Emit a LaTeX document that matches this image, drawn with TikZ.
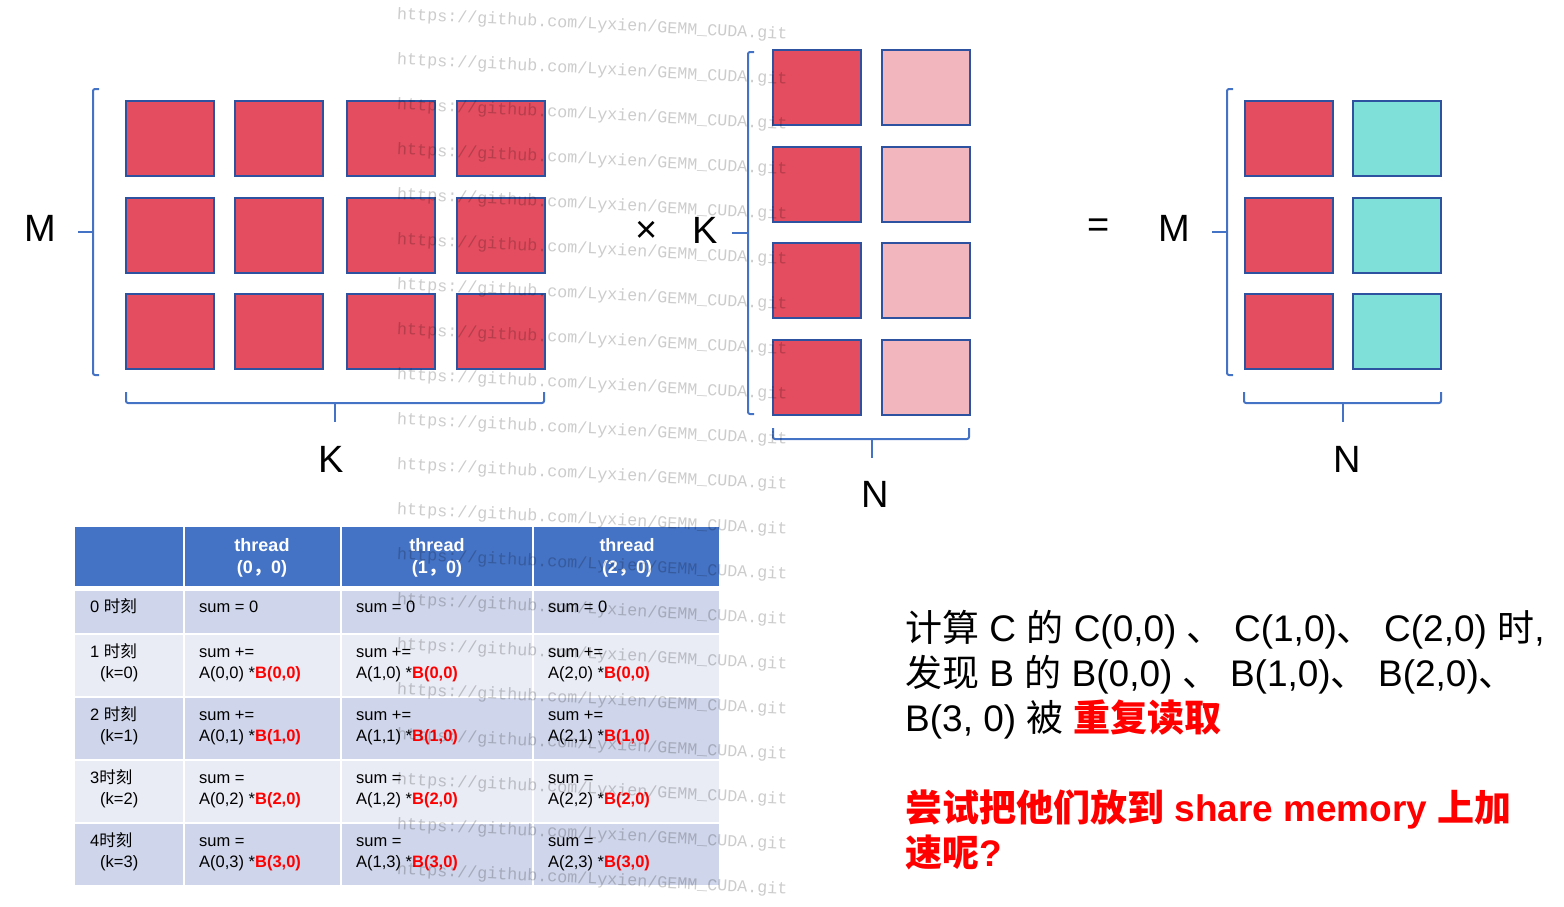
\documentclass[tikz,border=0pt]{standalone}
\usepackage{fontspec}
\setmainfont{Liberation Sans}
\newfontfamily\cjk{Noto Sans CJK SC}
\newfontfamily\wmfont{Liberation Mono}
\definecolor{redA}{HTML}{E34D5F}
\definecolor{pinkB}{HTML}{F2B6BE}
\definecolor{cyanC}{HTML}{7FDFD9}
\definecolor{boxblue}{HTML}{2F52A0}
\definecolor{brk}{HTML}{4472C4}
\definecolor{hdr}{HTML}{4472C4}
\definecolor{rowdark}{HTML}{CFD5EA}
\definecolor{rowlight}{HTML}{E9EBF5}
\newcommand{\rb}[1]{\textcolor{red}{\bfseries #1}}
\begin{document}
\begin{tikzpicture}[x=1pt,y=-1pt,
  mbox/.style={draw=boxblue, line width=2pt, minimum width=88pt, minimum height=75pt, inner sep=0pt, anchor=north west},
  redbox/.style={mbox, fill=redA},
  pinkbox/.style={mbox, fill=pinkB},
  cyanbox/.style={mbox, fill=cyanC},
  brace/.style={draw=brk, line width=2pt, rounded corners=2pt},
  big/.style={font=\fontsize{38}{44}\selectfont, inner sep=0pt},
  tl/.style={font=\fontsize{16.5}{20}\selectfont, inner sep=0pt, anchor=base west},
  hd/.style={font=\fontsize{18}{22}\selectfont\bfseries, text=white, inner sep=0pt, anchor=base},
  rt/.style={font=\fontsize{37}{45}\selectfont, inner sep=0pt, anchor=base west},
  wm/.style={font=\wmfont\fontsize{16.7}{18}\selectfont, text=black, text opacity=0.2, inner sep=0pt, anchor=west, rotate=-2.9}
]
\useasboundingbox (0,0) rectangle (1564,906);

% ---------- matrix A ----------
\foreach \c/\x in {1/125,2/234,3/346,4/456}
  \foreach \r/\y in {1/100,2/197,3/293}
    \node[redbox] (a\r\c) at (\x,\y) {};
\draw[brace] (99,89) -- (93,89) -- (93,375) -- (99,375);
\draw[brk, line width=2pt] (78,232) -- (93,232);
\draw[brace] (126,392) -- (126,403) -- (544,403) -- (544,392);
\draw[brk, line width=2pt] (335,403) -- (335,422);
\node[big] (mA) at (40,228) {M};
\node[big] (kA) at (331,459) {K};

% ---------- operator ----------
\node[big] (times) at (647,232) {×};
\node[big] (kB) at (705,230) {K};

% ---------- matrix B ----------
\foreach \r/\y in {1/49,2/146,3/242,4/339}{
  \node[redbox] (b\r1) at (772,\y) {};
  \node[pinkbox] (b\r2) at (881,\y) {};
}
\draw[brace] (754,52) -- (748,52) -- (748,414) -- (754,414);
\draw[brk, line width=2pt] (732,233) -- (748,233);
\draw[brace] (773,428) -- (773,439) -- (969,439) -- (969,428);
\draw[brk, line width=2pt] (872,439) -- (872,458);
\node[big] (nB) at (875,494) {N};

% ---------- equals and C ----------
\node[big] (eq) at (1099,228) {=};
\node[big] (mC) at (1174,228) {M};
\foreach \r/\y in {1/100,2/197,3/293}{
  \node[redbox] (c\r1) at (1244,\y) {};
  \node[cyanbox] (c\r2) at (1352,\y) {};
}
\draw[brace] (1233,89) -- (1227,89) -- (1227,375) -- (1233,375);
\draw[brk, line width=2pt] (1212,232) -- (1227,232);
\draw[brace] (1244,392) -- (1244,403) -- (1441,403) -- (1441,392);
\draw[brk, line width=2pt] (1343,403) -- (1343,422);
\node[big] (nC) at (1347,459) {N};

% ---------- table ----------
\foreach \xa/\xb in {75/183,185/340,342/532,534/719}{
  \fill[hdr] (\xa,527) rectangle (\xb,586);
  \fill[rowdark] (\xa,591) rectangle (\xb,633);
  \fill[rowlight] (\xa,635) rectangle (\xb,696);
  \fill[rowdark] (\xa,698) rectangle (\xb,759);
  \fill[rowlight] (\xa,761) rectangle (\xb,822);
  \fill[rowdark] (\xa,824) rectangle (\xb,885);
}
\node[hd] (h1a) at (262,551) {thread};
\node[hd] (h1b) at (262,573) {(0{\cjk\bfseries ，}0)};
\node[hd] (h2a) at (437,551) {thread};
\node[hd] (h2b) at (437,573) {(1{\cjk\bfseries ，}0)};
\node[hd] (h3a) at (627,551) {thread};
\node[hd] (h3b) at (627,573) {(2{\cjk\bfseries ，}0)};

% row 0
\node[tl] (r0c0) at (90,612) {0 {\cjk 时刻}};
\node[tl] (r0c1) at (199,612) {sum = 0};
\node[tl] (r0c2) at (356,612) {sum = 0};
\node[tl] (r0c3) at (548,612) {sum = 0};
% row 1
\node[tl] (r1c0a) at (90,657) {1 {\cjk 时刻}};
\node[tl] (r1c0b) at (100,678) {(k=0)};
\node[tl] (r1c1a) at (199,657) {sum +=};
\node[tl] (r1c1b) at (199,678) {A(0,0) *\rb{B(0,0)}};
\node[tl] (r1c2a) at (356,657) {sum +=};
\node[tl] (r1c2b) at (356,678) {A(1,0) *\rb{B(0,0)}};
\node[tl] (r1c3a) at (548,657) {sum +=};
\node[tl] (r1c3b) at (548,678) {A(2,0) *\rb{B(0,0)}};
% row 2
\node[tl] (r2c0a) at (90,720) {2 {\cjk 时刻}};
\node[tl] (r2c0b) at (100,741) {(k=1)};
\node[tl] (r2c1a) at (199,720) {sum +=};
\node[tl] (r2c1b) at (199,741) {A(0,1) *\rb{B(1,0)}};
\node[tl] (r2c2a) at (356,720) {sum +=};
\node[tl] (r2c2b) at (356,741) {A(1,1) *\rb{B(1,0)}};
\node[tl] (r2c3a) at (548,720) {sum +=};
\node[tl] (r2c3b) at (548,741) {A(2,1) *\rb{B(1,0)}};
% row 3
\node[tl] (r3c0a) at (90,783) {3{\cjk 时刻}};
\node[tl] (r3c0b) at (100,804) {(k=2)};
\node[tl] (r3c1a) at (199,783) {sum =};
\node[tl] (r3c1b) at (199,804) {A(0,2) *\rb{B(2,0)}};
\node[tl] (r3c2a) at (356,783) {sum =};
\node[tl] (r3c2b) at (356,804) {A(1,2) *\rb{B(2,0)}};
\node[tl] (r3c3a) at (548,783) {sum =};
\node[tl] (r3c3b) at (548,804) {A(2,2) *\rb{B(2,0)}};
% row 4
\node[tl] (r4c0a) at (90,846) {4{\cjk 时刻}};
\node[tl] (r4c0b) at (100,867) {(k=3)};
\node[tl] (r4c1a) at (199,846) {sum =};
\node[tl] (r4c1b) at (199,867) {A(0,3) *\rb{B(3,0)}};
\node[tl] (r4c2a) at (356,846) {sum =};
\node[tl] (r4c2b) at (356,867) {A(1,3) *\rb{B(3,0)}};
\node[tl] (r4c3a) at (548,846) {sum =};
\node[tl] (r4c3b) at (548,867) {A(2,3) *\rb{B(3,0)}};

% ---------- right text ----------
\node[rt] (t1) at (905,641) {{\cjk 计算} C {\cjk 的} C(0,0) {\cjk 、} C(1,0){\cjk 、} C(2,0) {\cjk 时},};
\node[rt] (t2) at (905,686) {{\cjk 发现} B {\cjk 的} B(0,0) {\cjk 、} B(1,0){\cjk 、} B(2,0){\cjk 、}};
\node[rt] (t3) at (905,731) {B(3, 0) {\cjk 被} {\color{red}\cjk\bfseries 重复读取}};
\node[rt] (t4) at (905,821) {\color{red}\bfseries{\cjk 尝试把他们放到} share memory {\cjk 上加}};
\node[rt] (t5) at (905,866) {\color{red}\bfseries{\cjk 速呢}?};

% ---------- watermark ----------
\foreach \i in {0,...,19}
  \node[wm] (wm\i) at (397,{15+45*\i}) {https://github.com/Lyxien/GEMM\_CUDA.git};
\end{tikzpicture}
\end{document}
